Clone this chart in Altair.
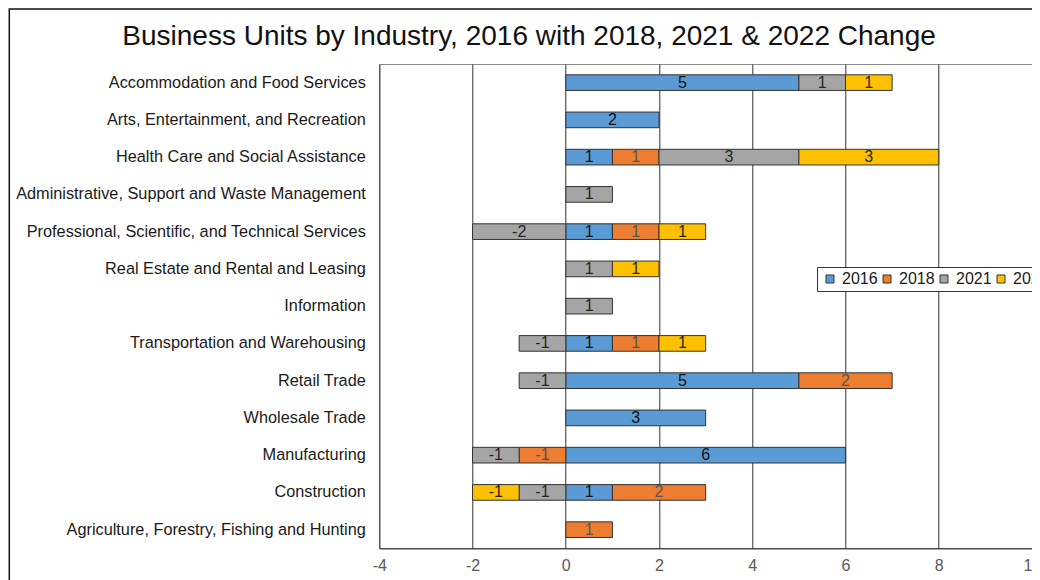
import altair as alt
import pandas as pd

industries = [
    "Accommodation and Food Services",
    "Arts, Entertainment, and Recreation",
    "Health Care and Social Assistance",
    "Administrative, Support and Waste Management",
    "Professional, Scientific, and Technical Services",
    "Real Estate and Rental and Leasing",
    "Information",
    "Transportation and Warehousing",
    "Retail Trade",
    "Wholesale Trade",
    "Manufacturing",
    "Construction",
    "Agriculture, Forestry, Fishing and Hunting",
]
years = ["2016", "2018", "2021", "2022"]
v2016 = [5, 2, 1, 0, 1, 0, 0, 1, 5, 3, 6, 1, 0]
v2018 = [0, 0, 1, 0, 1, 0, 0, 1, 2, 0, -1, 2, 1]
v2021 = [1, 0, 3, 1, -2, 1, 1, -1, -1, 0, -1, -1, 0]
v2022 = [1, 0, 3, 0, 1, 1, 0, 1, 0, 0, 0, -1, 0]
colors = ["#5B9BD5", "#ED7D31", "#A5A5A5", "#FFC000"]
text_colors = ["#111111", "#555555", "#262626", "#262626"]
x_ticks = [-4, -2, 0, 2, 4, 6, 8, 10]

rows = []
for i, ind in enumerate(industries):
    for k, (yr, vals) in enumerate(zip(years, [v2016, v2018, v2021, v2022])):
        if vals[i] != 0:
            rows.append({"industry": ind, "year": yr, "order": k,
                         "value": vals[i], "label": str(vals[i])})
df = pd.DataFrame(rows)

FONT = "Liberation Sans"
W, H = 652.7, 484.3
PL, PT = 371.3, 56
PR = 1024 - PL - W
PB = 572 - PT - H

base = alt.Chart(df).transform_stack(
    stack="value", groupby=["industry"], as_=["x0", "x1"],
    sort=[alt.SortField("order", order="ascending")], offset="zero"
).transform_calculate(mid="(datum.x0 + datum.x1) / 2")

xscale = alt.Scale(domain=[-4, 10], nice=False, zero=False)
yenc = alt.Y(
    "industry:N", sort=industries,
    scale=alt.Scale(paddingInner=0.58, paddingOuter=0.29),
    axis=alt.Axis(title=None, labelFont=FONT, labelFontSize=16.3, labelPadding=14,
                  ticks=False, domain=False, labelLimit=500, labelColor="#1a1a1a"),
)

bars = base.mark_bar(stroke="#333333", strokeWidth=1).encode(
    x=alt.X("x0:Q", scale=xscale, title=None,
            axis=alt.Axis(values=x_ticks, title=None, grid=True, gridColor="#333333",
                          gridWidth=1, ticks=False, domainColor="#222222",
                          labelColor="#595959", labelFont=FONT, labelFontSize=16,
                          labelPadding=9, labelFlush=False,
                          labelExpr="'' + datum.value")),
    x2="x1:Q",
    y=yenc,
    color=alt.Color("year:N", scale=alt.Scale(domain=years, range=colors),
                    legend=alt.Legend(title=None, orient="none", direction="horizontal",
                                      legendX=437.7, legendY=203, labelFont=FONT,
                                      labelFontSize=16, labelColor="#1a1a1a",
                                      symbolType="square", symbolSize=64,
                                      symbolStrokeColor="#333333", symbolStrokeWidth=1,
                                      symbolOffset=1, labelOffset=4, columnPadding=-2.5,
                                      padding=4, strokeColor="#333333", fillColor="white")),
)

labels = base.mark_text(font=FONT, fontSize=16, baseline="middle", align="center").encode(
    x=alt.X("mid:Q", scale=xscale, title=None),
    y=alt.Y("industry:N", sort=industries),
    text=alt.Text("label:N"),
    color=alt.Color("year:N", scale=alt.Scale(domain=years, range=text_colors), legend=None),
)

border = alt.Chart(pd.DataFrame({"a": [0]})).mark_rect(
    fill="transparent", stroke="#111111", strokeWidth=1.5
).encode(x=alt.value(-370), x2=alt.value(W + 60), y=alt.value(-55), y2=alt.value(H + 60))

chart = alt.layer(border, bars, labels).resolve_scale(color="independent").properties(
    width=W, height=H,
    title=alt.TitleParams(
        "Business Units by Industry, 2016 with 2018, 2021 & 2022 Change",
        font=FONT, fontSize=28, fontWeight="normal", color="#111111",
        anchor="middle", dx=-176.6, baseline="alphabetic", offset=-64.75,
    ),
    padding={"left": PL, "top": PT, "right": PR, "bottom": PB},
    autosize=alt.AutoSizeParams(type="none"),
).configure_view(stroke="#8c8c8c", strokeWidth=1)

chart.save("out.html", embed_options={"renderer": "svg", "actions": False})
